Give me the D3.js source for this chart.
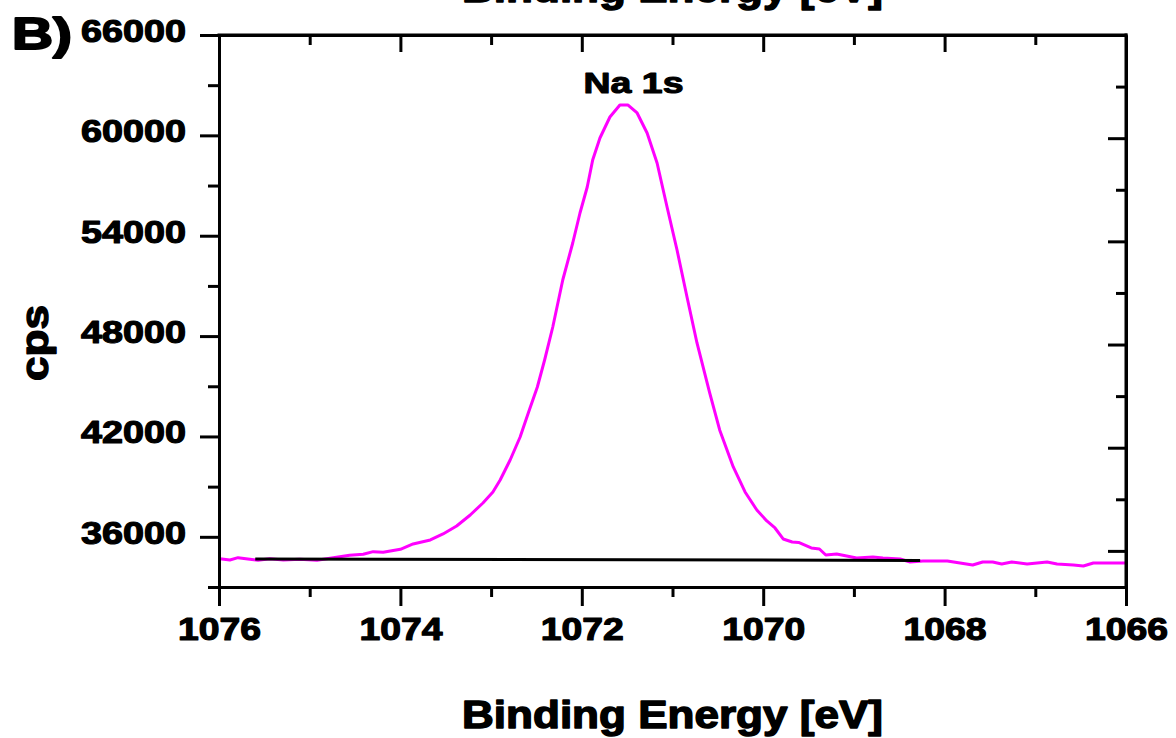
<!DOCTYPE html>
<html>
<head>
<meta charset="utf-8">
<script src="https://cdn.jsdelivr.net/npm/d3@7"></script>
<style>
  html, body { margin: 0; padding: 0; background: #ffffff; }
  svg { display: block; }
  text { font-family: Arial, "Liberation Sans", sans-serif; font-weight: bold; fill: #000; }
</style>
</head>
<body>
<svg id="chart" width="1176" height="738"></svg>
<script>
// ---- data ----
const energy = [1075.99, 1075.88, 1075.79, 1075.66, 1075.57, 1075.44, 1075.29, 1075.11, 1074.92, 1074.74,
  1074.56, 1074.41, 1074.30, 1074.19, 1074.00, 1073.86, 1073.67, 1073.53, 1073.38, 1073.23,
  1073.09, 1072.98, 1072.90, 1072.79, 1072.68, 1072.59, 1072.49, 1072.41, 1072.32, 1072.21,
  1072.10, 1072.02, 1071.94, 1071.88, 1071.80, 1071.69, 1071.58, 1071.49, 1071.39, 1071.28,
  1071.17, 1071.06, 1070.95, 1070.84, 1070.73, 1070.59, 1070.48, 1070.33, 1070.20, 1070.07,
  1069.96, 1069.87, 1069.78, 1069.68, 1069.61, 1069.47, 1069.38, 1069.31, 1069.19, 1069.08,
  1068.97, 1068.79, 1068.68, 1068.49, 1068.38, 1068.24, 1067.97, 1067.83, 1067.69, 1067.58,
  1067.47, 1067.37, 1067.26, 1067.09, 1066.87, 1066.76, 1066.58, 1066.47, 1066.36, 1066.03, 1066.00];
const counts = [34693, 34615, 34753, 34657, 34598, 34693, 34615, 34657, 34598, 34753,
  34896, 34956, 35112, 35076, 35255, 35572, 35811, 36170, 36648, 37306,
  38023, 38681, 39398, 40593, 41968, 43403, 44957, 46571, 48544, 51354,
  53566, 55359, 56913, 58527, 59843, 61098, 61815, 61815, 61337, 60142,
  58348, 55718, 53147, 50338, 47588, 44599, 42387, 40175, 38681, 37604,
  36947, 36528, 35871, 35692, 35662, 35333, 35273, 34914, 34974, 34855,
  34735, 34795, 34735, 34675, 34496, 34556, 34556, 34436, 34317, 34496,
  34496, 34376, 34496, 34376, 34496, 34376, 34317, 34257, 34436, 34436, 34436];
const baselineEnergy = [1075.60, 1068.27];
const baselineCounts = [34675, 34586];

const xMajorTicks = [1076, 1074, 1072, 1070, 1068, 1066];
const xMinorTicks = [1075, 1073, 1071, 1069, 1067];
const yMajorTicks = [36000, 42000, 48000, 54000, 60000, 66000];
const yMinorTicks = [33000, 39000, 45000, 51000, 57000, 63000];
const rightMajorTicks = [36000, 42000, 48000, 54000, 60000, 66000];
const rightMinorTicks = [39000, 45000, 51000, 57000, 63000];

const peakLabel = "Na 1s";
const peakLabelEnergy = 1071.43;
const xTitle = "Binding Energy [eV]";
const yTitle = "cps";
const panelLabel = "B)";

// ---- layout ----
const svg = d3.select("#chart");
const L = 219, R = 1126, T = 35, B = 587;

const x = d3.scaleLinear().domain([1076, 1066]).range([L, R]);
const y = d3.scaleLinear().domain([33000, 66000]).range([B, T]);
const yRight = d3.scaleLinear().domain([33900, 66000]).range([B, T]);

function styleAxis(g) {
  g.selectAll("path.domain").attr("stroke", "#000").attr("stroke-width", 3);
  g.selectAll(".tick line").attr("stroke", "#000").attr("stroke-width", 3);
}
function heavy(sel, w) {
  sel.attr("stroke", "#000").attr("stroke-width", w).attr("stroke-linejoin", "round");
}

// curve
const line = d3.line().x((d, i) => x(energy[i])).y((d, i) => y(counts[i]));
svg.append("path")
  .datum(counts)
  .attr("d", line)
  .attr("fill", "none")
  .attr("stroke", "#ff00ff")
  .attr("stroke-width", 3)
  .attr("stroke-linejoin", "round");

// background line
const bline = d3.line().x((d, i) => x(baselineEnergy[i])).y((d, i) => y(baselineCounts[i]));
svg.append("path")
  .datum(baselineCounts)
  .attr("d", bline)
  .attr("fill", "none")
  .attr("stroke", "#000")
  .attr("stroke-width", 3);

// left axis (minor then major)
const gLm = svg.append("g").attr("transform", `translate(${L},0)`)
  .call(d3.axisLeft(y).tickValues(yMinorTicks).tickSize(11).tickSizeOuter(0).tickFormat(""));
styleAxis(gLm);
const gL = svg.append("g").attr("transform", `translate(${L},0)`)
  .call(d3.axisLeft(y).tickValues(yMajorTicks).tickSize(19).tickSizeOuter(0).tickPadding(14).tickFormat(d3.format("d")));
styleAxis(gL);
gL.selectAll(".tick text")
  .attr("font-size", 32).attr("font-family", "Arial, 'Liberation Sans', sans-serif").attr("font-weight", "bold")
  .attr("dy", "0.2em").attr("textLength", 105).attr("lengthAdjust", "spacingAndGlyphs").attr("fill", "#000")
  .call(heavy, 1.2);

// bottom axis
const gBm = svg.append("g").attr("transform", `translate(0,${B})`)
  .call(d3.axisBottom(x).tickValues(xMinorTicks).tickSize(10).tickSizeOuter(0).tickFormat(""));
styleAxis(gBm);
const gB = svg.append("g").attr("transform", `translate(0,${B})`)
  .call(d3.axisBottom(x).tickValues(xMajorTicks).tickSize(19).tickSizeOuter(0).tickPadding(11).tickFormat(d3.format("d")));
styleAxis(gB);
gB.selectAll(".tick text")
  .attr("font-size", 32).attr("font-family", "Arial, 'Liberation Sans', sans-serif").attr("font-weight", "bold")
  .attr("textLength", 83).attr("lengthAdjust", "spacingAndGlyphs").attr("fill", "#000")
  .call(heavy, 1.2);

// top axis (ticks inward)
const gTm = svg.append("g").attr("transform", `translate(0,${T})`)
  .call(d3.axisBottom(x).tickValues(xMinorTicks).tickSize(10).tickSizeOuter(0).tickFormat(""));
styleAxis(gTm);
const gT = svg.append("g").attr("transform", `translate(0,${T})`)
  .call(d3.axisBottom(x).tickValues(xMajorTicks.slice(1, -1)).tickSize(17).tickSizeOuter(0).tickFormat(""));
styleAxis(gT);

// right axis (ticks inward)
const gRm = svg.append("g").attr("transform", `translate(${R},0)`)
  .call(d3.axisLeft(yRight).tickValues(rightMinorTicks).tickSize(10).tickSizeOuter(0).tickFormat(""));
styleAxis(gRm);
const gR = svg.append("g").attr("transform", `translate(${R},0)`)
  .call(d3.axisLeft(yRight).tickValues(rightMajorTicks.slice(0, -1)).tickSize(18).tickSizeOuter(0).tickFormat(""));
styleAxis(gR);
svg.append("line").attr("x1", R).attr("x2", R).attr("y1", T - 1.5).attr("y2", B + 1.5)
  .attr("stroke", "#000").attr("stroke-width", 3);
svg.append("line").attr("x1", L - 1.5).attr("x2", R + 1.5).attr("y1", T).attr("y2", T)
  .attr("stroke", "#000").attr("stroke-width", 3);

// peak label
svg.append("text")
  .attr("x", x(peakLabelEnergy)).attr("y", 93)
  .attr("text-anchor", "middle").attr("font-size", 30)
  .attr("textLength", 100).attr("lengthAdjust", "spacingAndGlyphs")
  .call(heavy, 1.1)
  .text(peakLabel);

// axis titles
svg.append("text")
  .attr("x", (L + R) / 2).attr("y", 728)
  .attr("text-anchor", "middle").attr("font-size", 38)
  .attr("textLength", 421).attr("lengthAdjust", "spacingAndGlyphs")
  .call(heavy, 1.4)
  .text(xTitle);
// cut-off title at very top (bottom of a panel above, as in the reference)
svg.append("text")
  .attr("x", (L + R) / 2).attr("y", 2)
  .attr("text-anchor", "middle").attr("font-size", 38)
  .attr("textLength", 421).attr("lengthAdjust", "spacingAndGlyphs")
  .call(heavy, 1.4)
  .text(xTitle);

svg.append("text")
  .attr("transform", "translate(48,343) rotate(-90)")
  .attr("text-anchor", "middle").attr("font-size", 38)
  .attr("textLength", 76).attr("lengthAdjust", "spacingAndGlyphs")
  .call(heavy, 1.4)
  .text(yTitle);

svg.append("text")
  .attr("x", 12).attr("y", 49)
  .attr("font-size", 44)
  .attr("textLength", 60).attr("lengthAdjust", "spacingAndGlyphs")
  .call(heavy, 2)
  .text(panelLabel);
</script>
</body>
</html>
